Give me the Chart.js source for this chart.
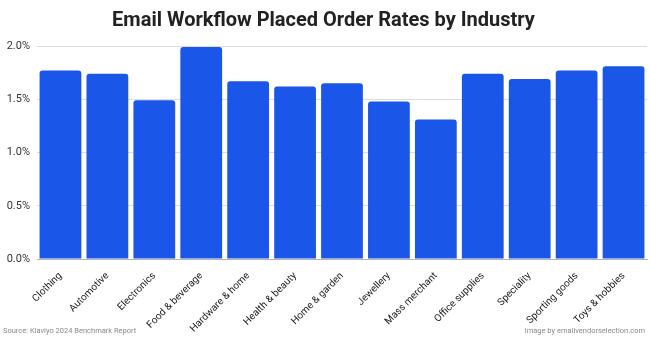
<!DOCTYPE html>
<html>
<head>
<meta charset="utf-8">
<script src="https://cdn.jsdelivr.net/npm/chart.js@4.4.1/dist/chart.umd.min.js"></script>
<style>
  html, body { margin: 0; padding: 0; background: #fff; }
  #wrap { position: relative; width: 650px; height: 337px; }
</style>
</head>
<body>
<div id="wrap"><canvas id="c" width="650" height="337"></canvas></div>
<script>
// Placed order rate (%) of email workflows per industry
const industries = [
  "Clothing", "Automotive", "Electronics", "Food & beverage", "Hardware & home",
  "Health & beauty", "Home & garden", "Jewellery", "Mass merchant",
  "Office supplies", "Speciality", "Sporting goods", "Toys & hobbies"
];
const placedOrderRates = [1.77, 1.74, 1.49, 1.99, 1.67, 1.62, 1.65, 1.48, 1.31, 1.74, 1.69, 1.77, 1.81];
const yTicks = [0, 0.5, 1.0, 1.5, 2.0];

const sourceText = "Source: Klaviyo 2024 Benchmark Report";
const creditText = "image by emailvendorselection.com";

const FONT = "Roboto, 'Liberation Sans', Arial, sans-serif";

const footerPlugin = {
  id: 'footerNotes',
  afterDraw(chart) {
    const ctx = chart.ctx;
    ctx.save();
    ctx.font = "7.5px " + FONT;
    ctx.fillStyle = "#8a8a8a";
    ctx.textBaseline = "alphabetic";
    ctx.textAlign = "left";
    ctx.fillText(sourceText, 3, 333);
    ctx.textAlign = "right";
    ctx.fillText(creditText, 645, 333);
    ctx.restore();
  }
};

new Chart(document.getElementById('c'), {
  type: 'bar',
  data: {
    labels: industries,
    datasets: [{
      data: placedOrderRates,
      backgroundColor: '#1a56e8',
      borderRadius: { topLeft: 3, topRight: 3, bottomLeft: 0, bottomRight: 0 },
      borderSkipped: 'bottom',
      barPercentage: 0.89,
      categoryPercentage: 1.0
    }]
  },
  options: {
    responsive: false,
    animation: false,
    devicePixelRatio: 1,
    layout: { padding: { left: 0, right: 3, top: 0, bottom: 0 } },
    plugins: {
      legend: { display: false },
      tooltip: { enabled: false },
      title: {
        display: true,
        text: 'Email Workflow Placed Order Rates by Industry',
        color: '#222222',
        font: { family: FONT, size: 20, weight: 'bold' },
        padding: { top: 9, bottom: 13 }
      }
    },
    scales: {
      y: {
        min: 0,
        max: 2.0,
        afterBuildTicks(axis) { axis.ticks = yTicks.map(v => ({ value: v })); },
        afterFit(axis) { axis.width = 37; },
        ticks: {
          color: '#333333',
          font: { family: FONT, size: 11 },
          padding: 7,
          callback: v => v.toFixed(1) + '%'
        },
        grid: { color: '#dcdcdc', drawTicks: false, lineWidth: 1 },
        border: { display: false }
      },
      x: {
        afterFit(axis) { axis.height = 78; axis.paddingLeft = 0; axis.paddingRight = 0; },
        ticks: {
          color: '#222222',
          font: { family: FONT, size: 10 },
          minRotation: 45,
          maxRotation: 45,
          autoSkip: false,
          padding: 11
        },
        grid: { display: false, drawTicks: false },
        border: { display: true, color: '#b5b5b5', width: 1 }
      }
    }
  },
  plugins: [footerPlugin]
});
</script>
</body>
</html>
